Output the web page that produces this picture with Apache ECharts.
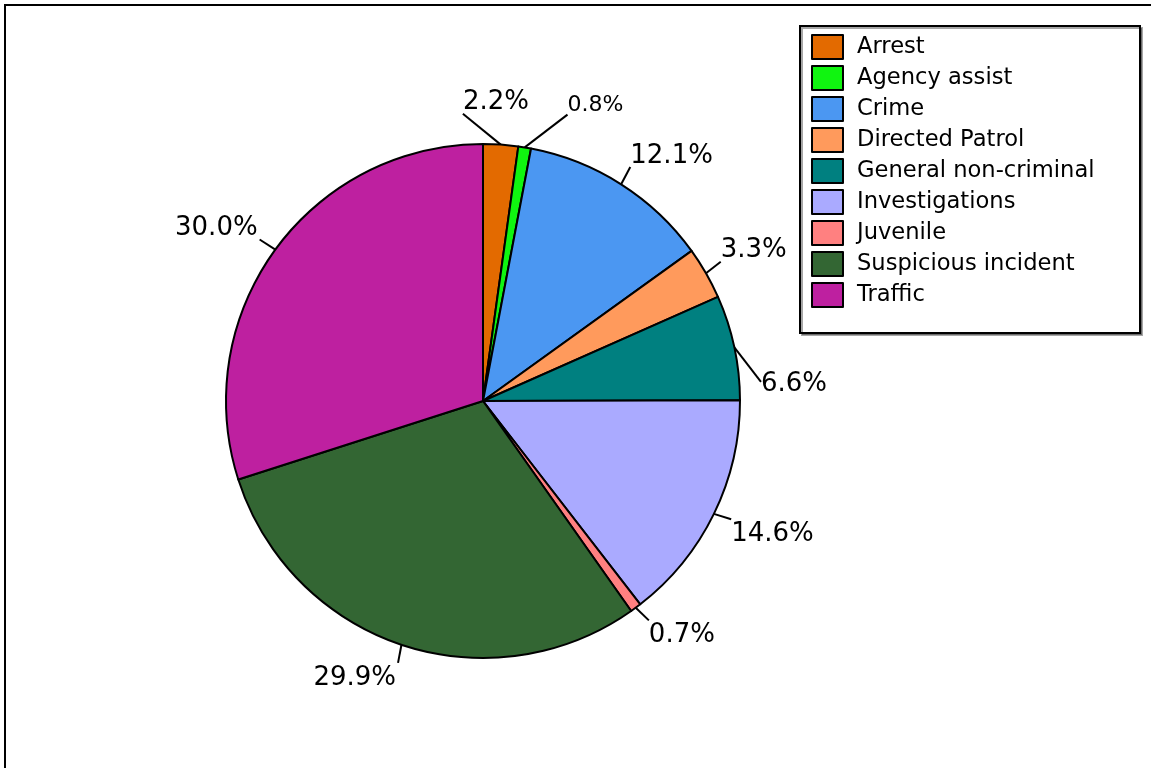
<!DOCTYPE html>
<html>
<head>
<meta charset="utf-8">
<title>Calls by type</title>
<script src="https://cdn.jsdelivr.net/npm/echarts@6/dist/echarts.min.js"></script>
<style>
  html, body { margin: 0; padding: 0; background: #fff; }
  #chart { width: 1151px; height: 768px; }
</style>
</head>
<body>
<div id="chart"></div>
<script>
// Call categories and their share of all calls (percent)
const categories = [
  'Arrest', 'Agency assist', 'Crime', 'Directed Patrol', 'General non-criminal',
  'Investigations', 'Juvenile', 'Suspicious incident', 'Traffic'
];
const shares = [2.2, 0.8, 12.1, 3.3, 6.6, 14.6, 0.7, 29.9, 30.0];
const sliceColors = [
  '#E36A00', '#10F510', '#4B97F2', '#FF9A5C', '#008080',
  '#AAAAFF', '#FF8080', '#336633', '#BE20A0'
];
// Extra nudge of a leader line's outer end, so crowded labels keep clear
// of each other and of the legend box
const leaderNudge = [[-39, -14], [40, -16], [0, -3], [0, -3], [10, 38], [2, -2], [3, -1], [2, 2], [-2, 0]];
// Label text size per slice (the tiny slice squeezed next to Arrest is set smaller)
const labelSizes = [26, 22, 26, 26, 26, 26, 26, 26, 26];

const FONT = '"DejaVu Sans", Verdana, sans-serif';
const CX = 483, CY = 401;

const chart = echarts.init(document.getElementById('chart'), null, { renderer: 'canvas' });

chart.setOption({
  backgroundColor: '#ffffff',
  animation: false,
  color: sliceColors,
  graphic: [
    // outer frame (top and left edges visible)
    { type: 'polyline', silent: true,
      shape: { points: [[5, 800], [5, 5], [1200, 5]] },
      style: { stroke: '#000', lineWidth: 2, fill: null } },
    // legend box with a light drop shadow
    { type: 'rect', silent: true, z: 0,
      shape: { x: 800, y: 26, width: 340, height: 307 },
      style: { fill: '#fff', stroke: '#000', lineWidth: 2,
               shadowColor: 'rgba(0,0,0,0.35)', shadowOffsetX: 2, shadowOffsetY: 2, shadowBlur: 0 } }
  ],
  legend: {
    orient: 'vertical',
    left: 811,
    top: 34,
    padding: 0,
    itemWidth: 31,
    itemHeight: 24,
    itemGap: 5,
    icon: 'rect',
    z: 5,
    itemStyle: { borderColor: '#000', borderWidth: 2 },
    textStyle: { fontFamily: FONT, fontSize: 22.6, color: '#000', padding: [0, 0, 0, 9] },
    data: categories
  },
  series: [{
    type: 'pie',
    center: [CX, CY],
    radius: 257,
    startAngle: 90,
    clockwise: true,
    avoidLabelOverlap: false,
    itemStyle: { borderColor: '#000', borderWidth: 2 },
    label: {
      show: true,
      position: 'outside',
      fontFamily: FONT,
      fontSize: 26,
      color: '#000',
      formatter: p => p.value.toFixed(1) + '%'
    },
    labelLine: {
      show: true,
      length: 17,
      length2: 0,
      lineStyle: { color: '#000', width: 2 }
    },
    labelLayout: function (params) {
      const pts = params.labelLinePoints;
      if (!pts) return {};
      const start = pts[0];
      const nudge = leaderNudge[params.dataIndex] || [0, 0];
      const end = [pts[1][0] + nudge[0], pts[1][1] + nudge[1]];
      const dx = pts[1][0] - start[0];
      const dy = pts[1][1] - start[1];
      const right = dx >= 0;
      // near-horizontal leaders keep the text centred on the line end
      const flat = Math.abs(dy) < Math.abs(dx) * 0.3;
      let vAlign, y;
      if (flat) { vAlign = 'middle'; y = end[1] + 2; }
      else if (dy < 0) { vAlign = 'bottom'; y = end[1] + 2; }
      else { vAlign = 'top'; y = end[1] + 2; }
      return {
        x: end[0] + (right ? 0 : -2),
        y: y,
        align: right ? 'left' : 'right',
        verticalAlign: vAlign,
        fontSize: labelSizes[params.dataIndex],
        hideOverlap: false,
        moveOverlap: false,
        labelLinePoints: [start, end, end]
      };
    },
    emphasis: { disabled: true },
    data: categories.map((name, i) => ({ name, value: shares[i] }))
  }]
});
</script>
</body>
</html>
